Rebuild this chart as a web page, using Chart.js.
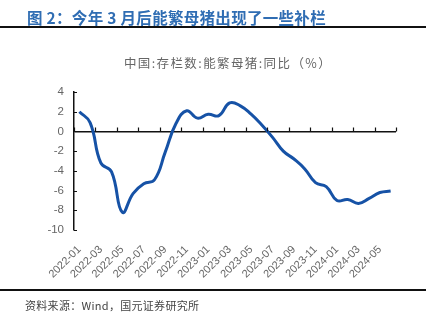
<!DOCTYPE html>
<html>
<head>
<meta charset="utf-8">
<script src="https://cdn.jsdelivr.net/npm/chart.js@4.4.0/dist/chart.umd.min.js"></script>
<style>
  html, body { margin: 0; padding: 0; background: #fff; }
  #wrap { position: relative; width: 436px; height: 322px; overflow: hidden; }
  #chart { position: absolute; left: 0; top: 0; }
  .head {
    position: absolute; left: 27px; top: 6px;
    font: bold 15.5px "Noto Sans CJK SC", sans-serif;
    color: #2f6db3; white-space: nowrap; letter-spacing: 0.3px;
  }
  .rule { position: absolute; left: 0; width: 426px; height: 2px; background: #111; }
  .sub {
    position: absolute; left: 0; width: 456px; top: 53px; text-align: center;
    font: 12.5px "Noto Sans CJK SC", sans-serif; color: #666; letter-spacing: 1.4px;
  }
  .src {
    position: absolute; left: 25px; top: 297px;
    font: 11px "Noto Sans CJK SC", sans-serif; color: #444; white-space: nowrap;
    letter-spacing: 0.3px;
  }
</style>
</head>
<body>
<div id="wrap">
  <canvas id="chart" width="436" height="322"></canvas>
  <div class="head">图 2：今年 3 月后能繁母猪出现了一些补栏</div>
  <div class="rule" style="top:26px"></div>
  <div class="sub">中国:存栏数:能繁母猪:同比（%）</div>
  <div class="rule" style="top:289px; height:1.5px"></div>
  <div class="src">资料来源：Wind，国元证券研究所</div>
</div>
<script>
// 月份 2022-01 .. 2024-06
const months = [
  '2022-01', '2022-02', '2022-03', '2022-04', '2022-05', '2022-06',
  '2022-07', '2022-08', '2022-09', '2022-10', '2022-11', '2022-12',
  '2023-01', '2023-02', '2023-03', '2023-04', '2023-05', '2023-06',
  '2023-07', '2023-08', '2023-09', '2023-10', '2023-11', '2023-12',
  '2024-01', '2024-02', '2024-03', '2024-04', '2024-05', '2024-06'
];
// 能繁母猪存栏同比 (%)
const sowYoY = [
  2.0, 0.9, -3.2, -4.1, -8.2, -6.3,
  -5.3, -4.9, -2.1, 0.8, 2.1, 1.35,
  1.75, 1.6, 2.9, 2.6, 1.75, 0.65,
  -0.6, -2.0, -2.8, -3.8, -5.2, -5.6,
  -7.0, -6.9, -7.3, -6.8, -6.2, -6.05
];
const yMin = -10;
const yMax = 4;
const yStep = 2;

// 零轴上的刻度 + 纵轴向内的刻度
const axisMarks = {
    id: 'axisMarks',
    afterDraw(chart) {
        const ctx = chart.ctx;
        const xs = chart.scales.x;
        const ys = chart.scales.y;
        const y0 = ys.getPixelForValue(0);
        const cat = xs.getPixelForValue(1) - xs.getPixelForValue(0);
        ctx.save();
        ctx.strokeStyle = '#111';
        ctx.lineWidth = 1.2;
        ctx.beginPath();
        for (let i = 0; i <= months.length; i += 2) {
            const x = Math.round(xs.getPixelForValue(i) - cat / 2) + 0.5;
            ctx.moveTo(x, y0);
            ctx.lineTo(x, y0 - 4);
        }
        ys.ticks.forEach(t => {
            const y = Math.round(ys.getPixelForValue(t.value)) + 0.5;
            ctx.moveTo(ys.right, y);
            ctx.lineTo(ys.right + 3, y);
        });
        ctx.stroke();
        ctx.restore();
    }
};

new Chart(document.getElementById('chart').getContext('2d'), {
    type: 'line',
    data: {
        labels: months,
        datasets: [{
            data: sowYoY,
            borderColor: '#1652a6',
            borderWidth: 3,
            pointRadius: 0,
            tension: 0.45,
            fill: false
        }]
    },
    options: {
        responsive: false,
        animation: false,
        devicePixelRatio: 1,
        layout: { padding: { left: 20, right: 40, top: 92, bottom: 0 } },
        plugins: {
            legend: { display: false },
            tooltip: { enabled: false }
        },
        scales: {
            x: {
                offset: true,
                grid: { display: false, drawTicks: false },
                border: { display: false },
                ticks: {
                    autoSkip: false,
                    minRotation: 45,
                    maxRotation: 45,
                    padding: 13,
                    color: '#666',
                    font: { family: "'Liberation Sans', Arial, sans-serif", size: 11 },
                    callback: function(v, i) { return i % 2 === 0 ? months[i] : ''; }
                },
                afterFit: function(scale) { scale.height = 92; }
            },
            y: {
                min: yMin,
                max: yMax,
                ticks: {
                    stepSize: yStep,
                    padding: 10,
                    color: '#666',
                    font: { family: "'Liberation Sans', Arial, sans-serif", size: 11.5 }
                },
                grid: {
                    drawTicks: false,
                    color: c => c.tick && c.tick.value === 0 ? '#111' : 'rgba(0,0,0,0)',
                    lineWidth: 1.6
                },
                border: { display: true, color: '#111', width: 1.5 },
                afterFit: function(scale) { scale.width = 54; }
            }
        }
    },
    plugins: [axisMarks]
});
</script>
</body>
</html>
